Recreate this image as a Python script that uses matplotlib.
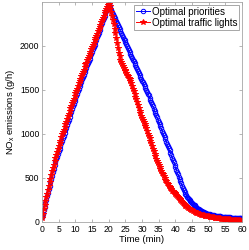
import numpy as np
import matplotlib
matplotlib.use("Agg")
import matplotlib.pyplot as plt

plt.rcParams["font.family"] = ["Liberation Sans", "DejaVu Sans"]

# time axis, one sample every quarter minute
time_min = np.arange(0, 60.25, 0.25)

# Optimal priorities (blue), one row per 2 minutes
priorities = [
    50, 90, 130, 170, 210, 250, 290, 330,
    370, 409, 448, 487, 525, 563, 602, 641,
    680, 710, 740, 770, 800, 830, 860, 890,
    920, 950, 980, 1010, 1040, 1070, 1100, 1130,
    1160, 1190, 1220, 1250, 1280, 1310, 1340, 1370,
    1400, 1428, 1455, 1483, 1510, 1538, 1565, 1593,
    1620, 1646, 1672, 1699, 1725, 1752, 1778, 1804,
    1830, 1855, 1880, 1905, 1930, 1958, 1985, 2013,
    2040, 2068, 2095, 2123, 2150, 2178, 2205, 2233,
    2260, 2288, 2315, 2343, 2370, 2396, 2422, 2449,
    2475, 2452, 2430, 2408, 2385, 2362, 2340, 2319,
    2298, 2276, 2255, 2233, 2212, 2191, 2170, 2147,
    2125, 2103, 2082, 2061, 2040, 2018, 1996, 1974,
    1952, 1930, 1908, 1886, 1865, 1843, 1822, 1800,
    1778, 1756, 1735, 1713, 1692, 1670, 1648, 1626,
    1605, 1583, 1562, 1540, 1518, 1496, 1475, 1455,
    1435, 1410, 1385, 1360, 1335, 1310, 1285, 1260,
    1235, 1210, 1185, 1160, 1135, 1110, 1085, 1060,
    1035, 1010, 985, 960, 935, 910, 885, 860,
    835, 810, 785, 758, 730, 705, 680, 650,
    620, 592, 565, 538, 512, 486, 460, 435,
    410, 386, 362, 340, 318, 299, 280, 267,
    255, 245, 235, 225, 215, 205, 195, 185,
    175, 166, 158, 150, 142, 135, 128, 122,
    117, 112, 108, 104, 100, 96, 93, 90,
    87, 84, 82, 79, 77, 75, 73, 71,
    69, 67, 66, 64, 63, 61, 60, 59,
    58, 57, 56, 55, 54, 53, 52, 51,
    50, 49, 48, 47, 46, 45, 45, 44,
    43, 42, 42, 41, 40, 40, 39, 38,
    38,
]

# Optimal traffic lights (red), one row per 2 minutes
traffic_lights = [
    40, 92, 140, 188, 232, 276, 318, 362,
    402, 447, 488, 531, 572, 608, 648, 687,
    722, 757, 788, 826, 862, 890, 922, 960,
    993, 1018, 1048, 1082, 1112, 1136, 1163, 1198,
    1228, 1255, 1287, 1318, 1347, 1370, 1398, 1432,
    1462, 1486, 1513, 1545, 1572, 1596, 1623, 1655,
    1682, 1703, 1728, 1760, 1787, 1808, 1833, 1863,
    1888, 1908, 1932, 1962, 1987, 2008, 2033, 2065,
    2092, 2113, 2138, 2167, 2192, 2213, 2238, 2270,
    2297, 2318, 2343, 2372, 2397, 2416, 2438, 2462,
    2480, 2455, 2420, 2383, 2340, 2298, 2250, 2196,
    2140, 2087, 2030, 1973, 1920, 1878, 1840, 1812,
    1790, 1768, 1750, 1728, 1710, 1690, 1672, 1652,
    1635, 1618, 1598, 1572, 1540, 1510, 1482, 1450,
    1420, 1390, 1358, 1325, 1290, 1262, 1232, 1205,
    1180, 1158, 1135, 1112, 1090, 1060, 1030, 1002,
    975, 947, 918, 890, 860, 830, 802, 773,
    745, 717, 690, 665, 640, 618, 597, 576,
    555, 537, 517, 498, 480, 462, 445, 428,
    410, 394, 380, 367, 355, 345, 335, 325,
    315, 302, 290, 277, 265, 255, 245, 233,
    222, 211, 200, 191, 182, 175, 168, 161,
    155, 148, 142, 136, 130, 125, 120, 115,
    110, 105, 100, 96, 92, 88, 85, 82,
    79, 76, 74, 71, 69, 66, 64, 62,
    60, 58, 56, 54, 52, 50, 49, 47,
    46, 44, 43, 41, 40, 39, 38, 36,
    35, 34, 33, 32, 31, 30, 29, 28,
    27, 26, 25, 24, 23, 22, 21, 20,
    19, 18, 17, 16, 15, 15, 14, 14,
    13,
]

x_ticks = list(range(0, 61, 5))
y_ticks = [0, 500, 1000, 1500, 2000]

fig = plt.figure(figsize=(2.49, 2.5), dpi=100)
ax = fig.add_axes([0.169, 0.113, 0.803, 0.88])

ax.plot(time_min, priorities, "-o", color="b", lw=0.7, ms=3.2,
        mfc="none", mew=0.7, label="Optimal priorities")
ax.plot(time_min, traffic_lights, "-*", color="r", lw=0.7, ms=4.2,
        mew=0.7, label="Optimal traffic lights")

ax.set_xlim(0, 60)
ax.set_ylim(0, 2500)
ax.set_xticks(x_ticks)
ax.set_yticks(y_ticks)
ax.tick_params(direction="in", length=2, width=0.5, color="0.6",
               labelsize=6.2, pad=2, top=True, right=True)
for s in ax.spines.values():
    s.set_linewidth(0.6)
    s.set_color("0.65")

ax.set_xlabel("Time (min)", fontsize=6.8, labelpad=1)
ax.set_ylabel("NO$_\\mathregular{x}$ emissions (g/h)", fontsize=6.8, labelpad=2)

leg = ax.legend(loc="upper right", fontsize=7, handlelength=1.4,
                handletextpad=0.2, borderpad=0.2, labelspacing=0.1,
                borderaxespad=0.3, fancybox=False, framealpha=1)
leg.get_frame().set_edgecolor("0.6")
leg.get_frame().set_linewidth(0.6)

fig.savefig("out.png", dpi=100)
